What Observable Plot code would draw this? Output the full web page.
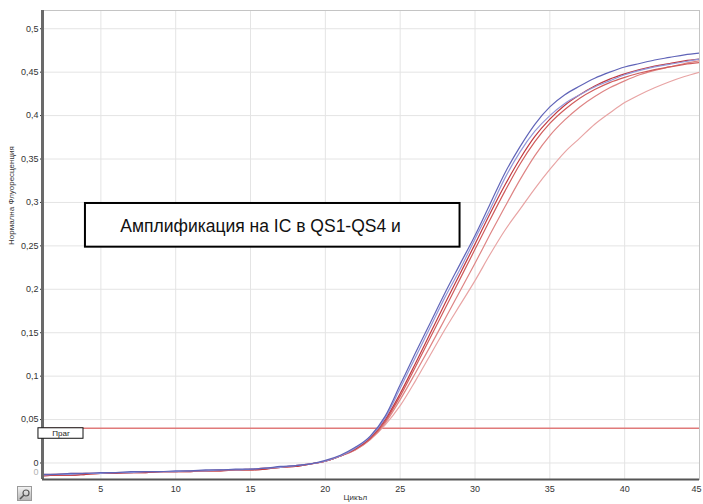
<!DOCTYPE html>
<html><head><meta charset="utf-8">
<script src="https://cdn.jsdelivr.net/npm/d3@7"></script>
<script src="https://cdn.jsdelivr.net/npm/@observablehq/plot@0.6"></script>
<style>
body{margin:0;background:#fff;font-family:"Liberation Sans",Arial,sans-serif;}
#wrap{position:relative;width:703px;height:504px;}
#icon{position:absolute;left:17px;top:486px;width:13px;height:13px;background:linear-gradient(#f2f2f2,#b8b8b8);border:1px solid #9a9a9a;}
</style></head><body><div id="wrap"><div id="icon"><svg width="13" height="13"><circle cx="8" cy="5" r="3" fill="none" stroke="#555" stroke-width="1.2"/><line x1="6" y1="7" x2="2" y2="11" stroke="#555" stroke-width="1.6"/></svg></div></div>
<script>
// ---- data ----
const cycles = [1,2,3,4,5,6,7,8,9,10,11,12,13,14,15,16,17,18,19,20,21,22,23,24,25,26,27,28,29,30,31,32,33,34,35,36,37,38,39,40,41,42,43,44,45];

const seriesNames = ["R4","R3","R2","R1","B2","B1"];
const seriesColors = ["#e8a4a4","#de8484","#d05c5c","#c03a42","#9397d8","#6064b8"];

const R4 = [-0.013,-0.013,-0.012,-0.012,-0.012,-0.011,-0.011,-0.010,-0.010,-0.010,
            -0.009,-0.009,-0.008,-0.008,-0.007,-0.006,-0.005,-0.003,-0.001,0.002,
             0.008,0.015,0.027,0.044,0.066,0.094,0.124,0.154,0.182,0.210,
             0.240,0.268,0.292,0.316,0.338,0.358,0.374,0.390,0.403,0.415,
             0.424,0.432,0.439,0.445,0.450];
const R3 = [-0.014,-0.013,-0.013,-0.012,-0.012,-0.011,-0.011,-0.010,-0.010,-0.010,
            -0.009,-0.009,-0.008,-0.008,-0.007,-0.006,-0.005,-0.003,-0.001,0.002,
             0.008,0.015,0.027,0.046,0.073,0.103,0.134,0.166,0.198,0.230,
             0.263,0.295,0.326,0.354,0.377,0.395,0.410,0.422,0.432,0.440,
             0.447,0.452,0.456,0.460,0.463];
const R2 = [-0.015,-0.014,-0.014,-0.013,-0.012,-0.012,-0.011,-0.011,-0.010,-0.010,
            -0.010,-0.009,-0.009,-0.008,-0.008,-0.007,-0.005,-0.004,-0.001,0.002,
             0.008,0.016,0.028,0.048,0.077,0.110,0.144,0.178,0.212,0.246,
             0.280,0.313,0.344,0.370,0.391,0.407,0.420,0.430,0.438,0.444,
             0.449,0.453,0.456,0.459,0.461];
const R1 = [-0.015,-0.014,-0.014,-0.013,-0.012,-0.012,-0.011,-0.011,-0.010,-0.010,
            -0.010,-0.009,-0.009,-0.008,-0.008,-0.007,-0.005,-0.004,-0.001,0.002,
             0.008,0.016,0.029,0.050,0.080,0.114,0.149,0.184,0.218,0.252,
             0.287,0.320,0.350,0.376,0.396,0.412,0.424,0.434,0.442,0.448,
             0.453,0.457,0.460,0.463,0.465];
const B2 = [-0.014,-0.013,-0.013,-0.012,-0.012,-0.011,-0.011,-0.010,-0.010,-0.010,
            -0.009,-0.009,-0.008,-0.008,-0.007,-0.006,-0.005,-0.003,-0.001,0.002,
             0.008,0.017,0.030,0.052,0.086,0.121,0.156,0.191,0.223,0.258,
             0.292,0.328,0.358,0.382,0.400,0.414,0.424,0.433,0.440,0.447,
             0.452,0.456,0.459,0.462,0.465];
const B1 = [-0.013,-0.013,-0.012,-0.012,-0.011,-0.011,-0.010,-0.010,-0.010,-0.009,
            -0.009,-0.008,-0.008,-0.007,-0.007,-0.006,-0.004,-0.003,-0.001,0.003,
             0.009,0.018,0.031,0.054,0.090,0.126,0.161,0.196,0.229,0.262,
             0.298,0.334,0.364,0.390,0.410,0.424,0.434,0.443,0.450,0.456,
             0.460,0.464,0.467,0.470,0.472];
const seriesValues = [R4,R3,R2,R1,B2,B1];

const threshold = 0.04;
const xTicks = [5,10,15,20,25,30,35,40];
const xTickLast = [45];
const yTicks = [0,0.05,0.1,0.15,0.2,0.25,0.3,0.35,0.4,0.45,0.5];
const extraYTick = [-0.01];
const thresholdLabel = "Праг";
const annotationText = "Амплификация на IC в QS1-QS4 и";
const yLabel = "Нормална Флуоресценция";
const xLabel = "Цикъл";

// ---- build table ----
const rows = [];
seriesNames.forEach((n,i) => cycles.forEach((c,j) => rows.push({name:n, color:seriesColors[i], cycle:c, value:seriesValues[i][j]})));

const X_DOMAIN = [1.1, 45];
const Y_DOMAIN = [-0.019, 0.521];
const fmt = d => String(+d.toFixed(2)).replace(".", ",");

// annotation placement (in data units)
const annBox = [{x1:3.97, x2:29.0, y1:0.2485, y2:0.2988}];
const annTextPos = [{x:6.3, y:0.2725, t:annotationText}];
const thrBox = [{x1:0.83, x2:3.84, y1:0.0279, y2:threshold}];
const thrTextPos = [{x:2.34, y:0.0338, t:thresholdLabel}];

const chart = Plot.plot({
  width:703, height:504,
  marginLeft:42, marginRight:4, marginTop:10, marginBottom:25,
  style:{fontFamily:"Liberation Sans, Arial, sans-serif", fontSize:"9px", color:"#333", background:"white"},
  x:{domain:X_DOMAIN},
  y:{domain:Y_DOMAIN},
  color:{type:"identity"},
  marks:[
    Plot.gridX([...xTicks, ...xTickLast],{stroke:"#e4e4e4", strokeOpacity:1}),
    Plot.gridY(yTicks,{stroke:"#e4e4e4", strokeOpacity:1}),
    Plot.frame({stroke:"#c4c4c4"}),
    Plot.axisX(xTicks,{tickSize:0, tickPadding:6, label:null, fontSize:9}),
    Plot.axisX(xTickLast,{tickSize:0, tickPadding:6, label:null, fontSize:9, dx:-3}),
    Plot.axisY(yTicks,{tickSize:2, tickPadding:2, tickFormat:fmt, label:null, fontSize:9}),
    Plot.text(extraYTick,{y:d=>d, text:d=>fmt(0), frameAnchor:"left", dx:-4, textAnchor:"end", fill:"#b0b0b0", fontSize:9}),
    Plot.text([yLabel],{frameAnchor:"left", dx:-31, rotate:-90, fontSize:8, fill:"#333"}),
    Plot.text([xLabel],{x:22, frameAnchor:"bottom", dy:20, fontSize:8, fill:"#333"}),
    Plot.ruleY([threshold],{stroke:"#e07a7a", strokeWidth:1.3}),
    Plot.line(rows,{x:"cycle", y:"value", z:"name", stroke:"color", strokeWidth:1.2, clip:true, curve:"monotone-x"}),
    Plot.ruleX([X_DOMAIN[0]],{stroke:"#6a6a6a", strokeWidth:3}),
    Plot.ruleY([Y_DOMAIN[0]],{stroke:"#555", strokeWidth:2}),
    Plot.rect(thrBox,{x1:"x1", x2:"x2", y1:"y1", y2:"y2", fill:"white", stroke:"#111", strokeWidth:1}),
    Plot.text(thrTextPos,{x:"x", y:"y", text:"t", fontSize:8, fill:"#222"}),
    Plot.rect(annBox,{x1:"x1", x2:"x2", y1:"y1", y2:"y2", fill:"white", stroke:"#000", strokeWidth:2}),
    Plot.text(annTextPos,{x:"x", y:"y", text:"t", textAnchor:"start", fontSize:17.5, fill:"#111"})
  ]
});
document.getElementById("wrap").prepend(chart);
</script>
</body></html>
